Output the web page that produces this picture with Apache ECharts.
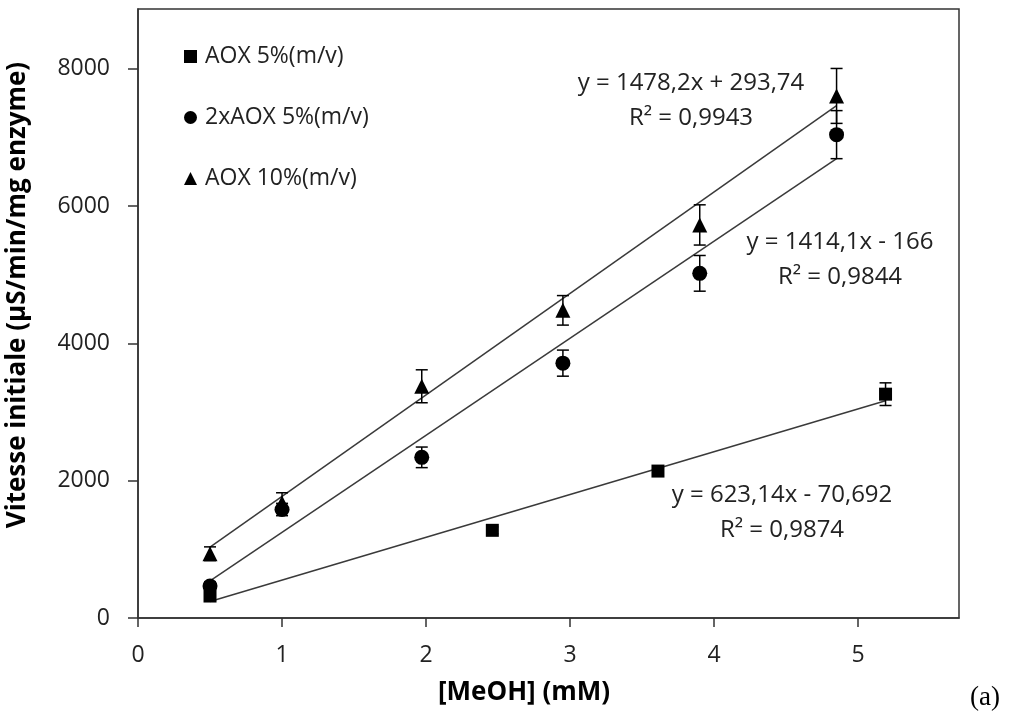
<!DOCTYPE html>
<html>
<head>
<meta charset="utf-8">
<script src="https://cdn.jsdelivr.net/npm/echarts@6/dist/echarts.min.js"></script>
<style>
html,body{margin:0;padding:0;background:#fff;}
#chart{width:1010px;height:713px;}
</style>
</head>
<body>
<div id="chart"></div>
<script>
// ---- data ----
var seriesNames = ['AOX 5%(m/v)', '2xAOX 5%(m/v)', 'AOX 10%(m/v)'];

var xSquare = [0.50, 2.46, 3.61, 5.19];
var ySquare = [320, 1277, 2140, 3260];
var eSquare = [40, 50, 60, 165];

var xCircle = [0.50, 1.00, 1.97, 2.95, 3.90, 4.85];
var yCircle = [466, 1580, 2340, 3712, 5020, 7040];
var eCircle = [60, 90, 150, 190, 260, 350];

var xTriangle = [0.50, 1.00, 1.97, 2.95, 3.90, 4.85];
var yTriangle = [936, 1678, 3375, 4481, 5725, 7604];
var eTriangle = [100, 146, 240, 215, 293, 400];

// trend line end points (from the printed regression equations)
var trendSquare = [[0.50, 241], [5.19, 3163]];
var trendCircle = [[0.50, 541], [4.85, 6692]];
var trendTriangle = [[0.50, 1033], [4.85, 7463]];

var eqTriangle = ['y = 1478,2x + 293,74', 'R² = 0,9943'];
var eqCircle = ['y = 1414,1x - 166', 'R² = 0,9844'];
var eqSquare = ['y = 623,14x - 70,692', 'R² = 0,9874'];

var xTicks = [0, 1, 2, 3, 4, 5];
var yTicks = [0, 2000, 4000, 6000, 8000];

// ---- build ----
function pts(xs, ys) { return xs.map(function (x, i) { return [x, ys[i]]; }); }
function errs(xs, ys, es) { return xs.map(function (x, i) { return [x, ys[i] - es[i], ys[i] + es[i]]; }); }

var axisColor = '#333';
var textColor = '#222';
var font = 'Open Sans';

function errorSeries(data) {
  return {
    type: 'custom',
    silent: true,
    z: 3,
    data: data,
    encode: { x: 0, y: [1, 2] },
    renderItem: function (params, api) {
      var x = api.value(0);
      var lo = api.coord([x, api.value(1)]);
      var hi = api.coord([x, api.value(2)]);
      var hw = 6;
      var st = { stroke: '#000', lineWidth: 1.5 };
      return {
        type: 'group',
        children: [
          { type: 'line', shape: { x1: lo[0], y1: lo[1], x2: hi[0], y2: hi[1] }, style: st },
          { type: 'line', shape: { x1: lo[0] - hw, y1: lo[1], x2: lo[0] + hw, y2: lo[1] }, style: st },
          { type: 'line', shape: { x1: hi[0] - hw, y1: hi[1], x2: hi[0] + hw, y2: hi[1] }, style: st }
        ]
      };
    }
  };
}

function trendSeries(data) {
  return {
    type: 'line',
    data: data,
    symbol: 'none',
    silent: true,
    z: 2,
    lineStyle: { color: '#3a3a3a', width: 1.5 },
    animation: false
  };
}

function scatterSeries(name, symbol, size, data) {
  return {
    type: 'scatter',
    name: name,
    symbol: symbol,
    symbolSize: size,
    data: data,
    z: 4,
    itemStyle: { color: '#000', opacity: 1 },
    emphasis: { disabled: true }
  };
}

function eqText(lines, cx, cy) {
  return lines.map(function (t, i) {
    return {
      type: 'text',
      x: cx, y: cy + i * 35,
      style: { text: t, fill: textColor, font: '24px "Open Sans"', textAlign: 'center', textVerticalAlign: 'middle' }
    };
  });
}

var chart = echarts.init(document.getElementById('chart'), null, { renderer: 'canvas' });

var option = {
  animation: false,
  backgroundColor: '#fff',
  grid: {
    left: 138, right: 51, top: 9, bottom: 95,
    show: true, borderColor: axisColor, borderWidth: 1.5,
    outerBoundsMode: 'none'
  },
  legend: {
    orient: 'vertical',
    left: 179, top: 40,
    itemWidth: 13, itemHeight: 13,
    itemGap: 38,
    selectedMode: false,
    data: seriesNames,
    textStyle: { fontFamily: font, fontSize: 23, color: textColor, padding: [0, 0, 0, 3] }
  },
  xAxis: {
    type: 'value',
    min: 0, max: 5.7,
    name: '[MeOH] (mM)',
    nameLocation: 'middle',
    nameGap: 62,
    nameTextStyle: { fontFamily: font, fontSize: 26, fontWeight: 'bold', color: '#000', padding: [0, 49, 0, 0] },
    axisLine: { show: true, onZero: false, lineStyle: { color: axisColor, width: 1.5 } },
    axisTick: { show: true, inside: false, length: 9, customValues: xTicks, lineStyle: { color: axisColor, width: 1.5 } },
    axisLabel: { customValues: xTicks, fontFamily: font, fontSize: 23, color: textColor, margin: 26,
      formatter: function (v) { return String(v); } },
    splitLine: { show: false }
  },
  yAxis: {
    type: 'value',
    min: 0, max: 8870,
    name: 'Vitesse initiale (µS/min/mg enzyme)',
    nameLocation: 'middle',
    nameGap: 107,
    nameRotate: 90,
    nameTextStyle: { fontFamily: font, fontSize: 26, fontWeight: 'bold', color: '#000', padding: [0, 0, 0, 37] },
    axisLine: { show: true, onZero: false, lineStyle: { color: axisColor, width: 1.5 } },
    axisTick: { show: true, inside: false, length: 10, customValues: yTicks, lineStyle: { color: axisColor, width: 1.5 } },
    axisLabel: { customValues: yTicks, fontFamily: font, fontSize: 23, color: textColor, margin: 28,
      formatter: function (v) { return String(v); } },
    splitLine: { show: false }
  },
  series: [
    trendSeries(trendSquare),
    trendSeries(trendCircle),
    trendSeries(trendTriangle),
    errorSeries(errs(xSquare, ySquare, eSquare)),
    errorSeries(errs(xCircle, yCircle, eCircle)),
    errorSeries(errs(xTriangle, yTriangle, eTriangle)),
    scatterSeries(seriesNames[0], 'rect', 13, pts(xSquare, ySquare)),
    scatterSeries(seriesNames[1], 'circle', 15, pts(xCircle, yCircle)),
    scatterSeries(seriesNames[2], 'triangle', 15, pts(xTriangle, yTriangle))
  ],
  graphic: [].concat(
    eqText(eqTriangle, 691, 83),
    eqText(eqCircle, 840, 242),
    eqText(eqSquare, 782, 495),
    [{
      type: 'text', x: 970, y: 698,
      style: { text: '(a)', fill: '#000', font: '27px "Liberation Serif"', textAlign: 'left', textVerticalAlign: 'middle' }
    }]
  )
};

chart.setOption(option);
</script>
</body>
</html>
